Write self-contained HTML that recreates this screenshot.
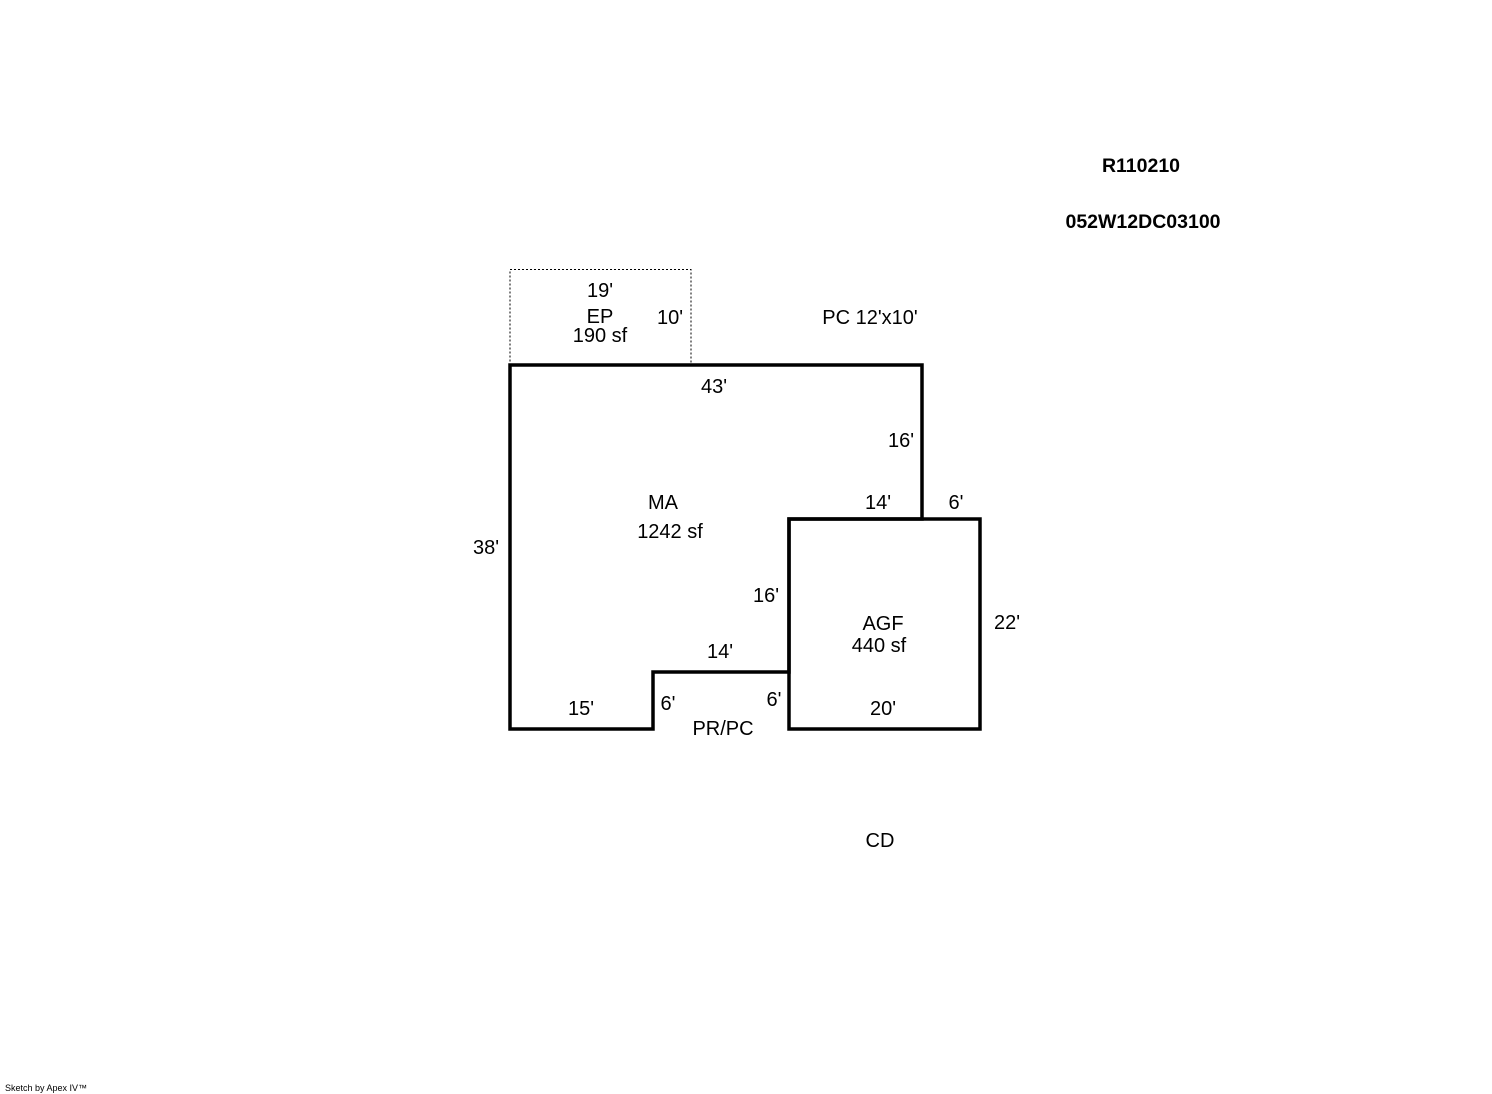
<!DOCTYPE html>
<html><head><style>
html,body{margin:0;padding:0;background:#fff;}
svg{display:block;}
text{font-family:"Liberation Sans",Arial,sans-serif;font-size:20px;fill:#000;}
</style></head><body>
<svg width="1492" height="1094" viewBox="0 0 1492 1094" xmlns="http://www.w3.org/2000/svg">
<rect x="510" y="269.5" width="181" height="95" fill="none" stroke="#000" stroke-width="1" stroke-dasharray="2,2"/>
<path d="M510 365 H922 V519 H789 V672 H653 V729 H510 Z" fill="none" stroke="#000" stroke-width="3.5"/>
<rect x="789" y="519" width="191" height="210" fill="none" stroke="#000" stroke-width="3.5"/>
<g text-anchor="middle">
<text x="1141" y="172" font-weight="bold" style="font-size:19.5px">R110210</text>
<text x="1143" y="228" font-weight="bold" style="font-size:19.5px">052W12DC03100</text>
<text x="600" y="297">19'</text>
<text x="600" y="323">EP</text>
<text x="600" y="342">190 sf</text>
<text x="670" y="324">10'</text>
<text x="870" y="324">PC 12'x10'</text>
<text x="714" y="393">43'</text>
<text x="901" y="447">16'</text>
<text x="663" y="509">MA</text>
<text x="670" y="538">1242 sf</text>
<text x="878" y="509">14'</text>
<text x="956" y="509">6'</text>
<text x="486" y="554">38'</text>
<text x="766" y="602">16'</text>
<text x="883" y="630">AGF</text>
<text x="879" y="652">440 sf</text>
<text x="1007" y="629">22'</text>
<text x="720" y="658">14'</text>
<text x="581" y="715">15'</text>
<text x="668" y="710">6'</text>
<text x="774" y="706">6'</text>
<text x="883" y="715">20'</text>
<text x="723" y="735">PR/PC</text>
<text x="880" y="847">CD</text>
</g>
<text x="5" y="1091" style="font-size:9px">Sketch by Apex IV™</text>
</svg>
</body></html>
